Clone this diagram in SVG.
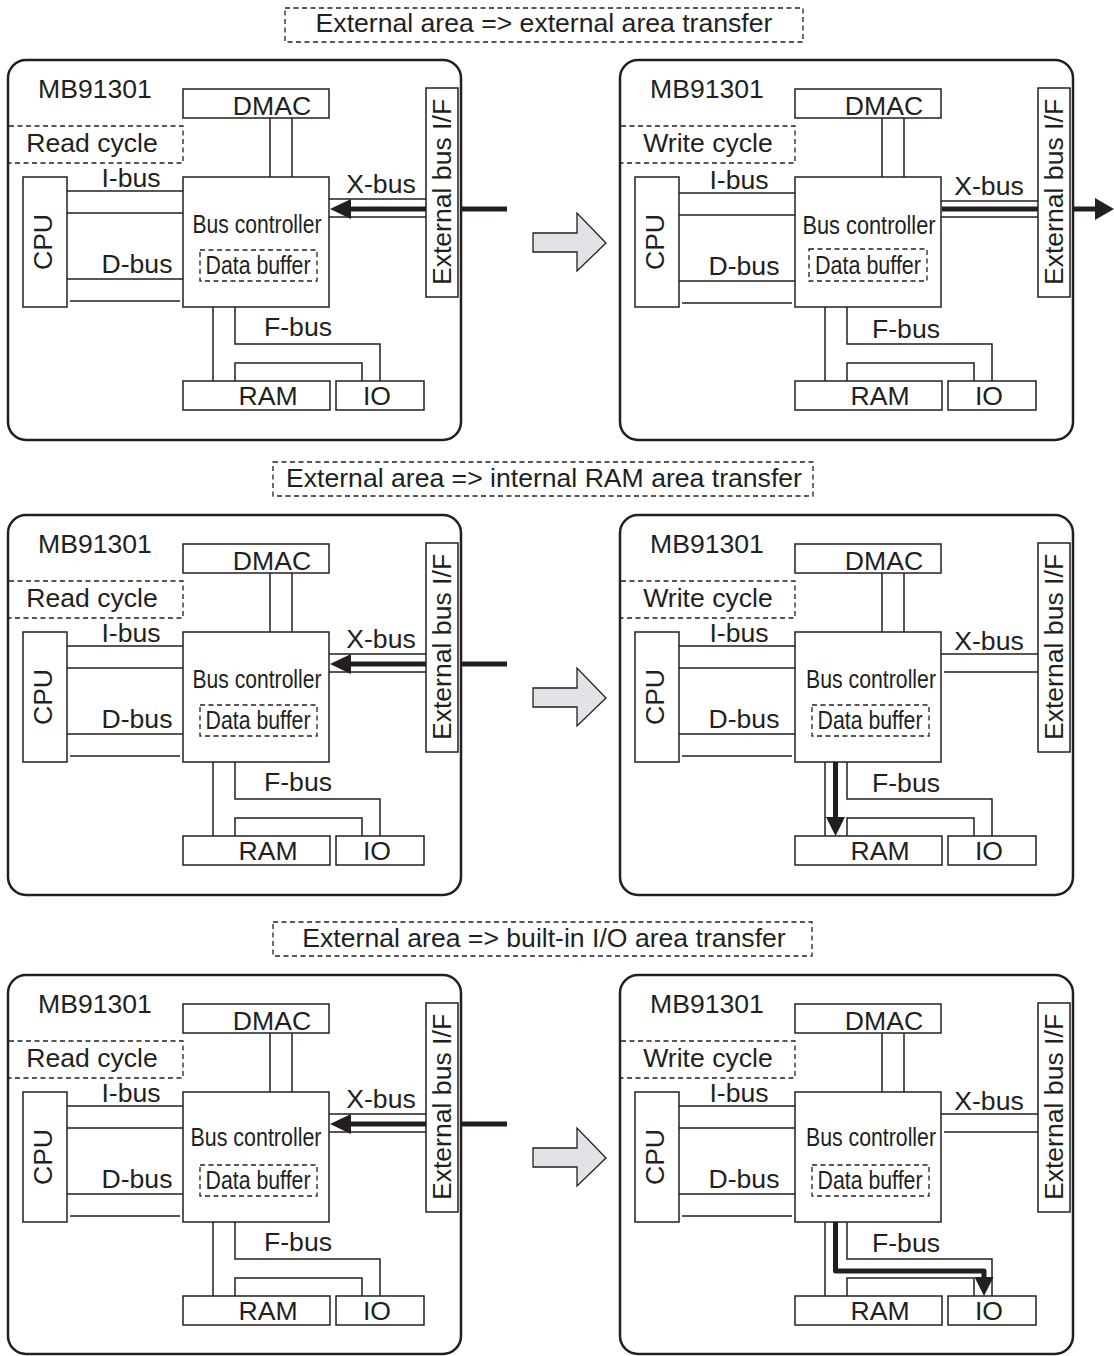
<svg xmlns="http://www.w3.org/2000/svg" width="1114" height="1356" viewBox="0 0 1114 1356">
<style>
.ln{stroke:#231f20;stroke-width:1.5;fill:none}
.bx{fill:#fff;stroke:#231f20;stroke-width:1.5}
.pn{fill:#fff;stroke:#231f20;stroke-width:2.5}
.ds{fill:none;stroke:#231f20;stroke-width:1.3;stroke-dasharray:5 3.5}
.t{font-family:"Liberation Sans",Arial,sans-serif;font-size:26.6px;fill:#231f20}
.tc{text-anchor:middle}
.th{stroke:#231f20;stroke-width:5;fill:none;stroke-linejoin:round}
.ah{fill:#231f20}
.ga{fill:#e1e3e7;stroke:#231f20;stroke-width:1.3}
</style>
<rect width="1114" height="1356" fill="#fff"/>

<!-- Titles -->
<g id="title1"><rect class="ds" x="285" y="8" width="518" height="34"/><text class="t tc" x="544" y="32">External area =&gt; external area transfer</text></g>
<g id="title2"><rect class="ds" x="273" y="462" width="540" height="34"/><text class="t tc" x="544" y="487">External area =&gt; internal RAM area transfer</text></g>
<g id="title3"><rect class="ds" x="273" y="922" width="539" height="34"/><text class="t tc" x="544" y="947">External area =&gt; built-in I/O area transfer</text></g>

<!-- Gray arrows -->
<g id="garrow1"><polygon class="ga" points="533,233 577,233 577,213 606,243 577,271 577,252 533,252"/></g>
<g id="garrow2" transform="translate(0,455)"><polygon class="ga" points="533,233 577,233 577,213 606,243 577,271 577,252 533,252"/></g>
<g id="garrow3" transform="translate(0,915)"><polygon class="ga" points="533,233 577,233 577,213 606,243 577,271 577,252 533,252"/></g>

<!-- Panel 1 left -->
<g id="p1l">
 <rect class="pn" x="8" y="60" width="453" height="380" rx="18"/>
 <text class="t" x="38" y="98">MB91301</text>
 <g id="p1l-dmac"><rect class="bx" x="183" y="89" width="146" height="29"/><text class="t tc" x="272" y="115">DMAC</text></g>
 <g id="p1l-cycle"><path class="ds" d="M9,126H183V163H9"/><text class="t tc" x="92" y="152">Read cycle</text></g>
 <g id="p1l-cpu"><rect class="bx" x="23" y="177" width="44" height="130"/><text class="t tc" transform="translate(52,242) rotate(-90)">CPU</text></g>
 <g id="p1l-bc"><rect class="bx" x="183" y="177" width="146" height="130"/><text class="t tc" x="257" y="233" textLength="129" lengthAdjust="spacingAndGlyphs">Bus controller</text><rect class="ds" x="200" y="250" width="117" height="31"/><text class="t tc" x="258" y="274" textLength="105" lengthAdjust="spacingAndGlyphs">Data buffer</text></g>
 <g id="p1l-extif"><rect class="bx" x="426" y="88" width="32" height="209"/><text class="t tc" transform="translate(451,192) rotate(-90)">External bus I/F</text></g>
 <g id="p1l-ram"><rect class="bx" x="183" y="381" width="147" height="29"/><text class="t tc" x="268" y="405">RAM</text></g>
 <g id="p1l-io"><rect class="bx" x="336" y="381" width="88" height="29"/><text class="t tc" x="377" y="405">IO</text></g>
 <g id="p1l-conn">
  <path class="ln" d="M270,118V177M292,118V177"/>
  <path class="ln" d="M67,191H183M67,213H183"/><text class="t tc" x="131" y="187">I-bus</text>
  <path class="ln" d="M67,279H183M70,301H180"/><text class="t tc" x="137" y="273">D-bus</text>
  <path class="ln" d="M329,199H426M329,217H426"/><text class="t tc" x="381" y="193">X-bus</text>
  <path class="ln" d="M213,307V381M235,307V344H380V381M235,381V363H362V381"/><text class="t tc" x="298" y="336">F-bus</text>
  <path class="th" d="M348,209H426M461,209H507"/><polygon class="ah" points="330,209 351,199 351,219"/>
 </g>
</g>

<!-- Panel 1 right -->
<g id="p1r" transform="translate(612,0)">
 <rect class="pn" x="8" y="60" width="453" height="380" rx="18"/>
 <text class="t" x="38" y="98">MB91301</text>
 <g id="p1r-dmac"><rect class="bx" x="183" y="89" width="146" height="29"/><text class="t tc" x="272" y="115">DMAC</text></g>
 <g id="p1r-cycle"><path class="ds" d="M9,126H183V163H9"/><text class="t tc" x="96" y="152">Write cycle</text></g>
 <g id="p1r-cpu"><rect class="bx" x="23" y="177" width="44" height="130"/><text class="t tc" transform="translate(52,242) rotate(-90)">CPU</text></g>
 <g id="p1r-bc"><rect class="bx" x="183" y="177" width="146" height="130"/><text class="t tc" x="257" y="234" textLength="133" lengthAdjust="spacingAndGlyphs">Bus controller</text><rect class="ds" x="197" y="249" width="118" height="32"/><text class="t tc" x="256" y="274" textLength="106" lengthAdjust="spacingAndGlyphs">Data buffer</text></g>
 <g id="p1r-extif"><rect class="bx" x="426" y="88" width="32" height="209"/><text class="t tc" transform="translate(451,192) rotate(-90)">External bus I/F</text></g>
 <g id="p1r-ram"><rect class="bx" x="183" y="381" width="147" height="29"/><text class="t tc" x="268" y="405">RAM</text></g>
 <g id="p1r-io"><rect class="bx" x="336" y="381" width="88" height="29"/><text class="t tc" x="377" y="405">IO</text></g>
 <g id="p1r-conn">
  <path class="ln" d="M270,118V177M292,118V177"/>
  <path class="ln" d="M67,193H183M67,215H183"/><text class="t tc" x="127" y="189">I-bus</text>
  <path class="ln" d="M67,281H183M70,303H180"/><text class="t tc" x="132" y="275">D-bus</text>
  <path class="ln" d="M329,201H426M329,217H426"/><text class="t tc" x="377" y="195">X-bus</text>
  <path class="ln" d="M213,307V381M235,307V344H380V381M235,381V363H362V381"/><text class="t tc" x="294" y="338">F-bus</text>
  <path class="th" d="M330,209H426M460,209H485"/><polygon class="ah" points="483,198 502,209 483,220"/>
 </g>
</g>

<!-- Panel 2 left -->
<g id="p2l" transform="translate(0,455)">
 <rect class="pn" x="8" y="60" width="453" height="380" rx="18"/>
 <text class="t" x="38" y="98">MB91301</text>
 <g id="p2l-dmac"><rect class="bx" x="183" y="89" width="146" height="29"/><text class="t tc" x="272" y="115">DMAC</text></g>
 <g id="p2l-cycle"><path class="ds" d="M9,126H183V163H9"/><text class="t tc" x="92" y="152">Read cycle</text></g>
 <g id="p2l-cpu"><rect class="bx" x="23" y="177" width="44" height="130"/><text class="t tc" transform="translate(52,242) rotate(-90)">CPU</text></g>
 <g id="p2l-bc"><rect class="bx" x="183" y="177" width="146" height="130"/><text class="t tc" x="257" y="233" textLength="129" lengthAdjust="spacingAndGlyphs">Bus controller</text><rect class="ds" x="200" y="250" width="117" height="31"/><text class="t tc" x="258" y="274" textLength="105" lengthAdjust="spacingAndGlyphs">Data buffer</text></g>
 <g id="p2l-extif"><rect class="bx" x="426" y="88" width="32" height="209"/><text class="t tc" transform="translate(451,192) rotate(-90)">External bus I/F</text></g>
 <g id="p2l-ram"><rect class="bx" x="183" y="381" width="147" height="29"/><text class="t tc" x="268" y="405">RAM</text></g>
 <g id="p2l-io"><rect class="bx" x="336" y="381" width="88" height="29"/><text class="t tc" x="377" y="405">IO</text></g>
 <g id="p2l-conn">
  <path class="ln" d="M270,118V177M292,118V177"/>
  <path class="ln" d="M67,191H183M67,213H183"/><text class="t tc" x="131" y="187">I-bus</text>
  <path class="ln" d="M67,279H183M70,301H180"/><text class="t tc" x="137" y="273">D-bus</text>
  <path class="ln" d="M329,199H426M329,217H426"/><text class="t tc" x="381" y="193">X-bus</text>
  <path class="ln" d="M213,307V381M235,307V344H380V381M235,381V363H362V381"/><text class="t tc" x="298" y="336">F-bus</text>
  <path class="th" d="M348,209H426M461,209H507"/><polygon class="ah" points="330,209 351,199 351,219"/>
 </g>
</g>

<!-- Panel 2 right -->
<g id="p2r" transform="translate(612,455)">
 <rect class="pn" x="8" y="60" width="453" height="380" rx="18"/>
 <text class="t" x="38" y="98">MB91301</text>
 <g id="p2r-dmac"><rect class="bx" x="183" y="89" width="146" height="29"/><text class="t tc" x="272" y="115">DMAC</text></g>
 <g id="p2r-cycle"><path class="ds" d="M9,126H183V163H9"/><text class="t tc" x="96" y="152">Write cycle</text></g>
 <g id="p2r-cpu"><rect class="bx" x="23" y="177" width="44" height="130"/><text class="t tc" transform="translate(52,242) rotate(-90)">CPU</text></g>
 <g id="p2r-bc"><rect class="bx" x="183" y="177" width="146" height="130"/><text class="t tc" x="259" y="233" textLength="130" lengthAdjust="spacingAndGlyphs">Bus controller</text><rect class="ds" x="200" y="250" width="117" height="31"/><text class="t tc" x="258" y="274" textLength="105" lengthAdjust="spacingAndGlyphs">Data buffer</text></g>
 <g id="p2r-extif"><rect class="bx" x="426" y="88" width="32" height="209"/><text class="t tc" transform="translate(451,192) rotate(-90)">External bus I/F</text></g>
 <g id="p2r-ram"><rect class="bx" x="183" y="381" width="147" height="29"/><text class="t tc" x="268" y="405">RAM</text></g>
 <g id="p2r-io"><rect class="bx" x="336" y="381" width="88" height="29"/><text class="t tc" x="377" y="405">IO</text></g>
 <g id="p2r-conn">
  <path class="ln" d="M270,118V177M292,118V177"/>
  <path class="ln" d="M67,191H183M67,213H183"/><text class="t tc" x="127" y="187">I-bus</text>
  <path class="ln" d="M67,279H183M70,301H180"/><text class="t tc" x="132" y="273">D-bus</text>
  <path class="ln" d="M329,199H426M332,217H426"/><text class="t tc" x="377" y="195">X-bus</text>
  <path class="ln" d="M213,307V381M235,307V344H380V381M235,381V363H362V381"/><text class="t tc" x="294" y="337">F-bus</text>
  <path class="th" d="M223.5,307V364"/><polygon class="ah" points="214,362 233,362 223.5,381"/>
 </g>
</g>

<!-- Panel 3 left -->
<g id="p3l" transform="translate(0,915)">
 <rect class="pn" x="8" y="60" width="453" height="379" rx="18"/>
 <text class="t" x="38" y="98">MB91301</text>
 <g id="p3l-dmac"><rect class="bx" x="183" y="89" width="146" height="29"/><text class="t tc" x="272" y="115">DMAC</text></g>
 <g id="p3l-cycle"><path class="ds" d="M9,126H183V163H9"/><text class="t tc" x="92" y="152">Read cycle</text></g>
 <g id="p3l-cpu"><rect class="bx" x="23" y="177" width="44" height="130"/><text class="t tc" transform="translate(52,242) rotate(-90)">CPU</text></g>
 <g id="p3l-bc"><rect class="bx" x="183" y="177" width="146" height="130"/><text class="t tc" x="256" y="231" textLength="131" lengthAdjust="spacingAndGlyphs">Bus controller</text><rect class="ds" x="200" y="250" width="117" height="31"/><text class="t tc" x="258" y="274" textLength="105" lengthAdjust="spacingAndGlyphs">Data buffer</text></g>
 <g id="p3l-extif"><rect class="bx" x="426" y="88" width="32" height="209"/><text class="t tc" transform="translate(451,192) rotate(-90)">External bus I/F</text></g>
 <g id="p3l-ram"><rect class="bx" x="183" y="381" width="147" height="29"/><text class="t tc" x="268" y="405">RAM</text></g>
 <g id="p3l-io"><rect class="bx" x="336" y="381" width="88" height="29"/><text class="t tc" x="377" y="405">IO</text></g>
 <g id="p3l-conn">
  <path class="ln" d="M270,118V177M292,118V177"/>
  <path class="ln" d="M67,191H183M67,213H183"/><text class="t tc" x="131" y="187">I-bus</text>
  <path class="ln" d="M67,279H183M70,301H180"/><text class="t tc" x="137" y="273">D-bus</text>
  <path class="ln" d="M329,199H426M329,217H426"/><text class="t tc" x="381" y="193">X-bus</text>
  <path class="ln" d="M213,307V381M235,307V344H380V381M235,381V363H362V381"/><text class="t tc" x="298" y="336">F-bus</text>
  <path class="th" d="M348,209H426M461,209H507"/><polygon class="ah" points="330,209 351,199 351,219"/>
 </g>
</g>

<!-- Panel 3 right -->
<g id="p3r" transform="translate(612,915)">
 <rect class="pn" x="8" y="60" width="453" height="379" rx="18"/>
 <text class="t" x="38" y="98">MB91301</text>
 <g id="p3r-dmac"><rect class="bx" x="183" y="89" width="146" height="29"/><text class="t tc" x="272" y="115">DMAC</text></g>
 <g id="p3r-cycle"><path class="ds" d="M9,126H183V163H9"/><text class="t tc" x="96" y="152">Write cycle</text></g>
 <g id="p3r-cpu"><rect class="bx" x="23" y="177" width="44" height="130"/><text class="t tc" transform="translate(52,242) rotate(-90)">CPU</text></g>
 <g id="p3r-bc"><rect class="bx" x="183" y="177" width="146" height="130"/><text class="t tc" x="259" y="231" textLength="130" lengthAdjust="spacingAndGlyphs">Bus controller</text><rect class="ds" x="200" y="250" width="117" height="31"/><text class="t tc" x="258" y="274" textLength="105" lengthAdjust="spacingAndGlyphs">Data buffer</text></g>
 <g id="p3r-extif"><rect class="bx" x="426" y="88" width="32" height="209"/><text class="t tc" transform="translate(451,192) rotate(-90)">External bus I/F</text></g>
 <g id="p3r-ram"><rect class="bx" x="183" y="381" width="147" height="29"/><text class="t tc" x="268" y="405">RAM</text></g>
 <g id="p3r-io"><rect class="bx" x="336" y="381" width="88" height="29"/><text class="t tc" x="377" y="405">IO</text></g>
 <g id="p3r-conn">
  <path class="ln" d="M270,118V177M292,118V177"/>
  <path class="ln" d="M67,191H183M67,213H183"/><text class="t tc" x="127" y="187">I-bus</text>
  <path class="ln" d="M67,279H183M70,301H180"/><text class="t tc" x="132" y="273">D-bus</text>
  <path class="ln" d="M329,199H426M332,217H426"/><text class="t tc" x="377" y="195">X-bus</text>
  <path class="ln" d="M213,307V381M235,307V344H380V381M235,381V363H362V381"/><text class="t tc" x="294" y="337">F-bus</text>
  <path class="th" d="M223.5,307V356H372V364"/><polygon class="ah" points="362.5,362 381.5,362 372,381"/>
 </g>
</g>
</svg>
